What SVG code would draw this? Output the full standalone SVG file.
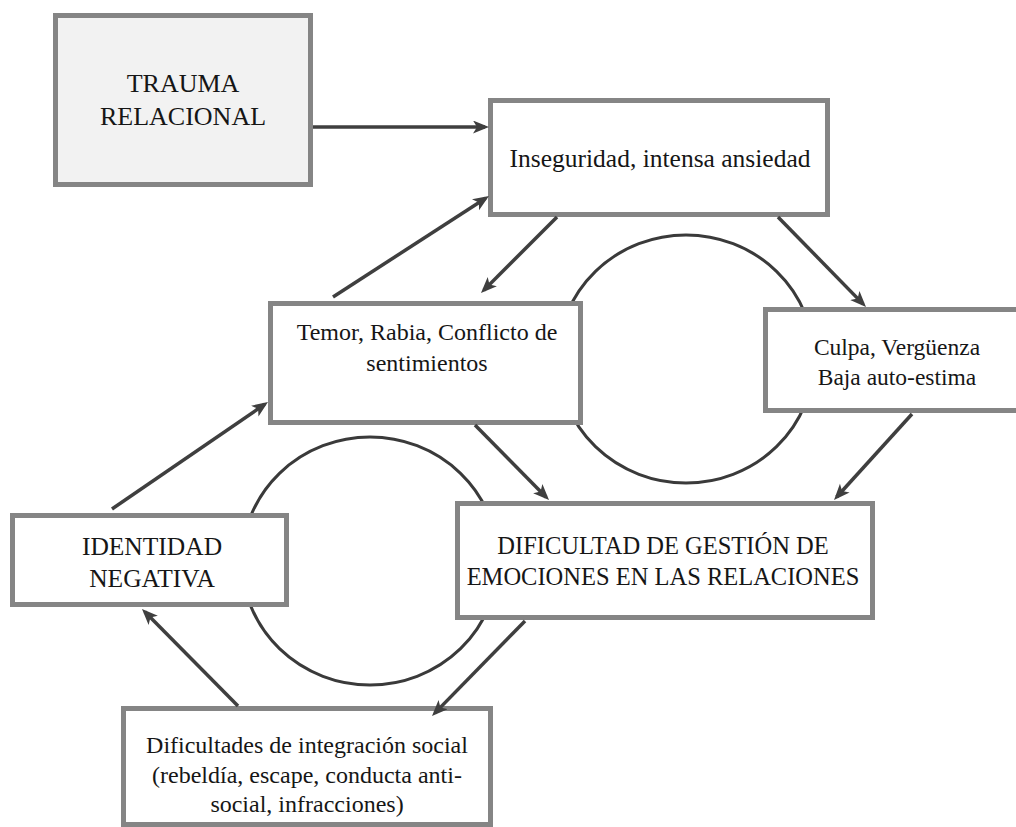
<svg xmlns="http://www.w3.org/2000/svg" width="1016" height="827" viewBox="0 0 1016 827">
<style>
.box{fill:#ffffff;stroke:#858585;stroke-width:5}
.t{font-family:'Times New Roman','Liberation Serif',Tinos,serif;fill:#161616;text-anchor:middle}
.c{stroke:#3f3f3f;stroke-width:3.5;fill:none}
.loop{stroke:#3a3a3a;stroke-width:3;fill:none}
</style>
<defs>
<marker id="ah" markerUnits="userSpaceOnUse" markerWidth="18" markerHeight="14" refX="12" refY="6.5" orient="auto">
<path d="M0,0 L16,6.5 L0,13 L4,6.5 z" fill="#3f3f3f"/>
</marker>
</defs>
<rect width="1016" height="827" fill="#ffffff"/>
<g id="loops">
<ellipse class="loop" cx="686" cy="359" rx="128" ry="124"/>
<ellipse class="loop" cx="370" cy="561" rx="128" ry="124"/>
</g>
<g id="trauma">
<rect class="box" x="55.5" y="15.5" width="255" height="169" style="fill:#f2f2f2"/>
<text class="t" x="183" y="92" font-size="26">TRAUMA</text>
<text class="t" x="183" y="125" font-size="26">RELACIONAL</text>
</g>
<g id="inseguridad">
<rect class="box" x="490.5" y="100.5" width="337" height="114"/>
<text class="t" x="660" y="167" font-size="25.5">Inseguridad, intensa ansiedad</text>
</g>
<g id="temor">
<rect class="box" x="270.5" y="303.5" width="310" height="119"/>
<text class="t" x="427" y="340" font-size="24">Temor, Rabia, Conflicto de</text>
<text class="t" x="427" y="371" font-size="24">sentimientos</text>
</g>
<g id="culpa">
<rect class="box" x="765.5" y="309.5" width="270" height="101"/>
<text class="t" x="897" y="355" font-size="23.5">Culpa, Vergüenza</text>
<text class="t" x="897" y="385" font-size="23.5">Baja auto-estima</text>
</g>
<g id="identidad">
<rect class="box" x="12.5" y="515.5" width="274" height="89"/>
<text class="t" x="152" y="555" font-size="25.5">IDENTIDAD</text>
<text class="t" x="152" y="587" font-size="25.5">NEGATIVA</text>
</g>
<g id="dificultad">
<rect class="box" x="457.5" y="503.5" width="415" height="114"/>
<text class="t" x="663" y="554" font-size="24.5">DIFICULTAD DE GESTIÓN DE</text>
<text class="t" x="663" y="585" font-size="24.5">EMOCIONES EN LAS RELACIONES</text>
</g>
<g id="integracion">
<rect class="box" x="123.5" y="708.5" width="367" height="116"/>
<text class="t" x="307" y="753" font-size="24">Dificultades de integración social</text>
<text class="t" x="307" y="783" font-size="24">(rebeldía, escape, conducta anti-</text>
<text class="t" x="307" y="812" font-size="24">social, infracciones)</text>
</g>
<g id="connectors">
<line class="c" x1="313" y1="127" x2="485" y2="127" marker-end="url(#ah)"/>
<line class="c" x1="333" y1="297" x2="485.6" y2="198.2" marker-end="url(#ah)"/>
<line class="c" x1="557" y1="217" x2="483.8" y2="290.2" marker-end="url(#ah)"/>
<line class="c" x1="778" y1="217" x2="863.2" y2="304.1" marker-end="url(#ah)"/>
<line class="c" x1="912" y1="414" x2="836.7" y2="497" marker-end="url(#ah)"/>
<line class="c" x1="475" y1="425" x2="546.2" y2="497.2" marker-end="url(#ah)"/>
<line class="c" x1="112" y1="509" x2="264.7" y2="404.3" marker-end="url(#ah)"/>
<line class="c" x1="525" y1="621" x2="434.8" y2="713.1" marker-end="url(#ah)"/>
<line class="c" x1="238" y1="706" x2="144.8" y2="611.8" marker-end="url(#ah)"/>
</g>
</svg>
